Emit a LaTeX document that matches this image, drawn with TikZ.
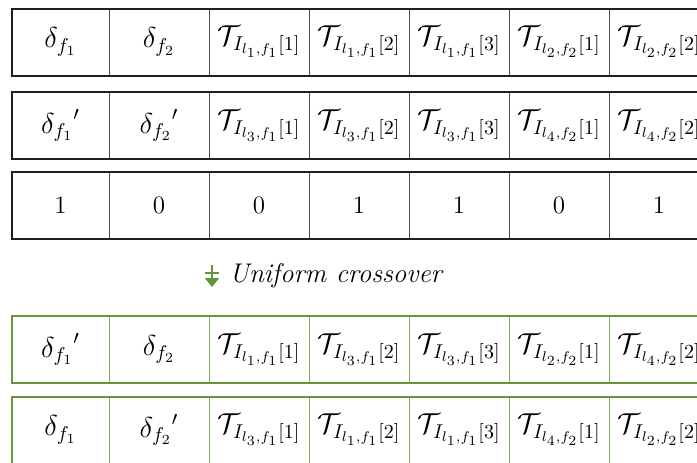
\documentclass[tikz,border=0pt]{standalone}
\usepackage{amsmath}
\usetikzlibrary{arrows.meta, positioning}

\definecolor{framegray}{RGB}{30,30,30}
\definecolor{linegray}{RGB}{75,75,75}
\definecolor{framegreen}{RGB}{100,150,62}
\definecolor{linegreen}{RGB}{128,176,92}
\definecolor{icongreen}{RGB}{92,150,58}

\begin{document}
\begin{tikzpicture}[
    x=0.5pt, y=-0.5pt,
    node distance=0pt,
    cell/.style={draw=linegray, line width=0.5pt, rectangle, outer sep=0pt, inner sep=0pt,
        minimum width=50pt, minimum height=33.5pt, font=\fontsize{14.5}{17}\selectfont},
    firstcell/.style={cell, minimum width=48.5pt},
    bitcell/.style={cell, font=\fontsize{12.5}{15}\selectfont},
    gcell/.style={cell, draw=linegreen},
    gfirstcell/.style={gcell, minimum width=48.5pt},
    rowframe/.style={draw=framegray, line width=1pt},
    growframe/.style={draw=framegreen, line width=1pt},
    xo text/.style={anchor=west, inner sep=0pt, font=\itshape\fontsize{13.5}{16}\selectfont},
    xo icon/.style={draw=icongreen, line width=1pt}
]
\useasboundingbox (0,0) rectangle (697,462);
\clip (0,0) rectangle (697,462);

% Parent 1
\node[firstcell] (a1) at (60.5,42) {$\delta_{f_1}$};
\node[cell, right=of a1] (a2) {$\delta_{f_2}$};
\node[cell, right=of a2] (a3) {$\mathcal{T}_{I_{l_1,f_1}[1]}$};
\node[cell, right=of a3] (a4) {$\mathcal{T}_{I_{l_1,f_1}[2]}$};
\node[cell, right=of a4] (a5) {$\mathcal{T}_{I_{l_1,f_1}[3]}$};
\node[cell, right=of a5] (a6) {$\mathcal{T}_{I_{l_2,f_2}[1]}$};
\node[cell, right=of a6] (a7) {$\mathcal{T}_{I_{l_2,f_2}[2]}$};
\draw[rowframe] (a1.north west) rectangle (a7.south east);

% Parent 2
\node[firstcell] (b1) at (60.5,125.5) {${\delta_{f_1}}'$};
\node[cell, right=of b1] (b2) {${\delta_{f_2}}'$};
\node[cell, right=of b2] (b3) {$\mathcal{T}_{I_{l_3,f_1}[1]}$};
\node[cell, right=of b3] (b4) {$\mathcal{T}_{I_{l_3,f_1}[2]}$};
\node[cell, right=of b4] (b5) {$\mathcal{T}_{I_{l_3,f_1}[3]}$};
\node[cell, right=of b5] (b6) {$\mathcal{T}_{I_{l_4,f_2}[1]}$};
\node[cell, right=of b6] (b7) {$\mathcal{T}_{I_{l_4,f_2}[2]}$};
\draw[rowframe] (b1.north west) rectangle (b7.south east);

% Mask
\node[bitcell, minimum width=48.5pt] (m1) at (60.5,205) {1};
\node[bitcell, right=of m1] (m2) {0};
\node[bitcell, right=of m2] (m3) {0};
\node[bitcell, right=of m3] (m4) {1};
\node[bitcell, right=of m4] (m5) {1};
\node[bitcell, right=of m5] (m6) {0};
\node[bitcell, right=of m6] (m7) {1};
\draw[rowframe] (m1.north west) rectangle (m7.south east);

% Crossover label
\node[xo text] (xo) at (229,276) {Uniform crossover};
\draw[xo icon, -{Triangle[width=7pt, length=4.5pt]}] (212,265) -- (212,287);
\draw[xo icon] (205,273) -- (219,273);

% Offspring 1
\node[gfirstcell] (c1) at (60.5,349.5) {${\delta_{f_1}}'$};
\node[gcell, right=of c1] (c2) {$\delta_{f_2}$};
\node[gcell, right=of c2] (c3) {$\mathcal{T}_{I_{l_1,f_1}[1]}$};
\node[gcell, right=of c3] (c4) {$\mathcal{T}_{I_{l_3,f_1}[2]}$};
\node[gcell, right=of c4] (c5) {$\mathcal{T}_{I_{l_3,f_1}[3]}$};
\node[gcell, right=of c5] (c6) {$\mathcal{T}_{I_{l_2,f_2}[1]}$};
\node[gcell, right=of c6] (c7) {$\mathcal{T}_{I_{l_4,f_2}[2]}$};
\draw[growframe] (c1.north west) rectangle (c7.south east);

% Offspring 2
\node[gfirstcell] (d1) at (60.5,430) {$\delta_{f_1}$};
\node[gcell, right=of d1] (d2) {${\delta_{f_2}}'$};
\node[gcell, right=of d2] (d3) {$\mathcal{T}_{I_{l_3,f_1}[1]}$};
\node[gcell, right=of d3] (d4) {$\mathcal{T}_{I_{l_1,f_1}[2]}$};
\node[gcell, right=of d4] (d5) {$\mathcal{T}_{I_{l_1,f_1}[3]}$};
\node[gcell, right=of d5] (d6) {$\mathcal{T}_{I_{l_4,f_2}[1]}$};
\node[gcell, right=of d6] (d7) {$\mathcal{T}_{I_{l_2,f_2}[2]}$};
\draw[growframe] (d1.north west) rectangle (d7.south east);

\end{tikzpicture}
\end{document}
